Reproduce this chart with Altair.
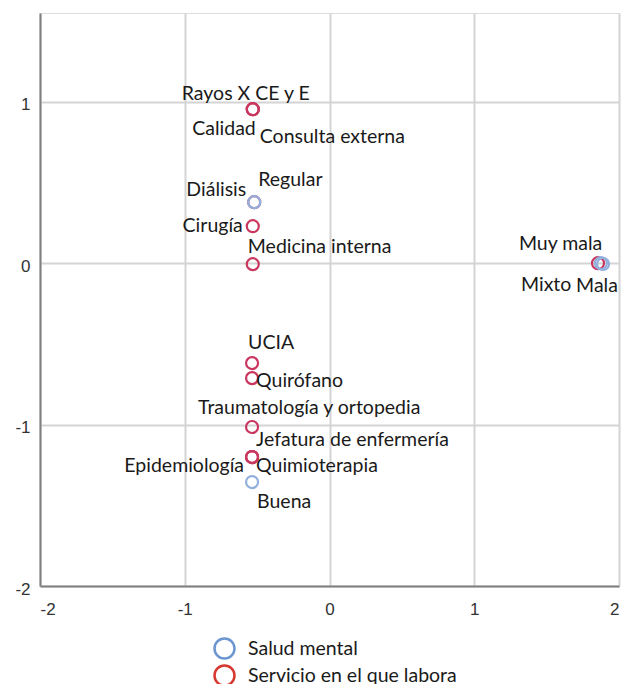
import altair as alt
import pandas as pd

# ---- data ----
LABELS = [
    "Rayos X CE y E", "Calidad", "Consulta externa", "Diálisis", "Cirugía",
    "Medicina interna", "UCIA", "Quirófano", "Traumatología y ortopedia",
    "Jefatura de enfermería", "Epidemiología", "Quimioterapia", "Mixto",
    "Regular", "Buena", "Muy mala", "Mala",
]
GROUPS = ["Servicio en el que labora"] * 13 + ["Salud mental"] * 4
DIM1 = [-0.53, -0.53, -0.53, -0.52, -0.53,
        -0.53, -0.535, -0.535, -0.535,
        -0.535, -0.535, -0.535, 1.855,
        -0.52, -0.535, 1.875, 1.89]
DIM2 = [0.954, 0.954, 0.954, 0.378, 0.229,
        -0.006, -0.619, -0.712, -1.015,
        -1.201, -1.201, -1.201, 0.0,
        0.378, -1.356, 0.0, -0.005]

LEGEND_GROUPS = ["Salud mental", "Servicio en el que labora"]
X_TICKS = [-2, -1, 0, 1, 2]
Y_TICKS = [-2, -1, 0, 1]

# ---- styles ----
POINT_RED = "#c9375f"
POINT_BLUE = "#92b0de"
LEGEND_COLORS = ["#6b96d0", "#d6392f"]
LABEL_FONT = "Lato"
LABEL_SIZE = 19.5
# label placement: (align, dx, dy) in pixels relative to the point
LABEL_STYLE = {
    "Rayos X CE y E": ("left", -71, -15),
    "Calidad": ("right", 3, 20),
    "Consulta externa": ("left", 7, 28),
    "Diálisis": ("right", -8, -12),
    "Regular": ("left", 4, -22),
    "Cirugía": ("right", -10, 0),
    "Medicina interna": ("left", -5, -17),
    "UCIA": ("left", -4, -20),
    "Quirófano": ("left", 4, 3),
    "Traumatología y ortopedia": ("left", -54, -19),
    "Jefatura de enfermería": ("left", 4, -17),
    "Epidemiología": ("right", -8, 9),
    "Quimioterapia": ("left", 4, 9),
    "Buena": ("left", 5, 20),
    "Muy mala": ("left", -82, -19),
    "Mixto": ("left", -77, 22),
    "Mala": ("left", -27, 22),
}

df = pd.DataFrame({"label": LABELS, "group": GROUPS, "x": DIM1, "y": DIM2})

axis_common = dict(
    title=None, grid=True, gridColor="#d4d4d4", gridWidth=2,
    domainColor="#808080", domainWidth=2, ticks=False,
    labelFont="Liberation Sans", labelFontSize=17, labelColor="#333333",
    labelExpr="toString(datum.value)",
)
X = alt.X("x:Q", scale=alt.Scale(domain=[-2, 2], nice=False, zero=False),
          axis=alt.Axis(values=X_TICKS, labelPadding=15, **axis_common))
Y = alt.Y("y:Q", scale=alt.Scale(domain=[-2, 1.55], nice=False, zero=False),
          axis=alt.Axis(values=Y_TICKS, labelPadding=10, labelOffset=3, **axis_common))

base = alt.Chart(df)

red_pts = base.transform_filter(alt.datum.group == "Servicio en el que labora").mark_point(
    filled=False, size=144, strokeWidth=2.2, color=POINT_RED, opacity=1
).encode(x=X, y=Y)

blue_pts = base.transform_filter(alt.datum.group == "Salud mental").mark_point(
    filled=False, size=144, strokeWidth=2.2, color=POINT_BLUE, opacity=1
).encode(x=X, y=Y)

legend_layer = base.mark_point(filled=False, opacity=0).encode(
    x=X, y=Y,
    color=alt.Color(
        "group:N",
        scale=alt.Scale(domain=LEGEND_GROUPS, range=LEGEND_COLORS),
        legend=alt.Legend(
            title=None, orient="none", legendX=173, legendY=624,
            direction="vertical", padding=0, rowPadding=-6,
            symbolType="circle", symbolSize=400, symbolStrokeWidth=2.5,
            symbolOpacity=1, symbolFillColor="transparent",
            labelFont=LABEL_FONT, labelFontSize=LABEL_SIZE, labelColor="#1a1a1a",
            labelOffset=12, labelLimit=400,
        ),
    ),
)

text_layers = []
for lab in LABELS:
    align, dx, dy = LABEL_STYLE[lab]
    text_layers.append(
        base.transform_filter(alt.datum.label == lab).mark_text(
            align=align, baseline="middle", dx=dx, dy=dy,
            font=LABEL_FONT, fontSize=LABEL_SIZE, color="#1a1a1a",
        ).encode(x=X, y=Y, text="label:N")
    )

chart = alt.layer(legend_layer, red_pts, blue_pts, *text_layers).properties(
    width=579, height=573,
    autosize=alt.AutoSizeParams(type="none"),
    padding={"left": 32, "top": 5, "right": 2, "bottom": 98},
).configure_view(stroke=None).configure(background="white")

chart.save("out.html", embed_options={"renderer": "svg", "actions": False})
